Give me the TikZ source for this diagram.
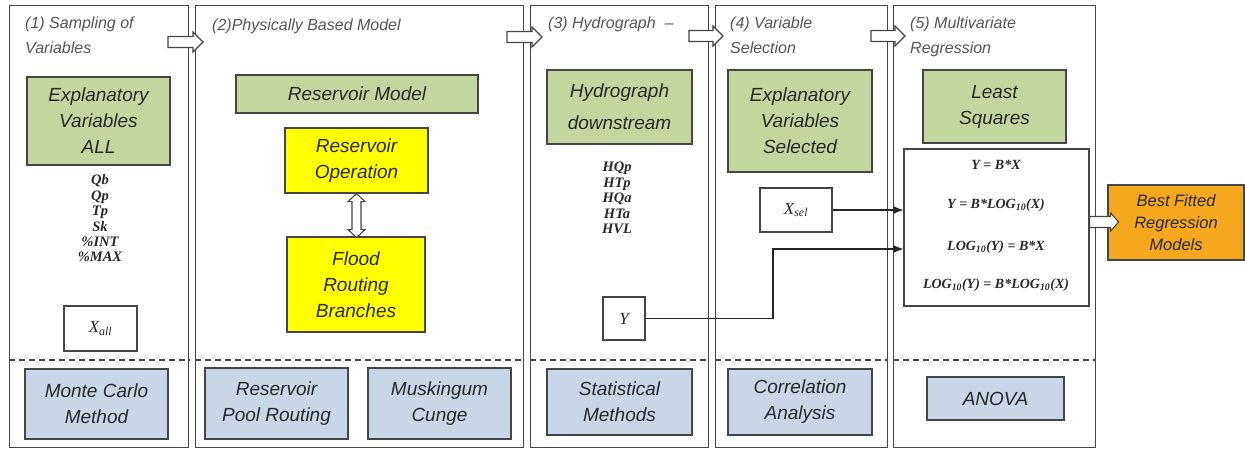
\documentclass[tikz,border=0pt]{standalone}
\usepackage{fontspec}
\setmainfont{Liberation Serif}
\setsansfont{Liberation Sans}
\usetikzlibrary{calc,arrows.meta}
\definecolor{edge}{RGB}{70,70,70}
\definecolor{txt}{RGB}{40,40,40}
\definecolor{ttl}{RGB}{85,85,85}
\definecolor{lgreen}{RGB}{196,214,160}
\definecolor{lyellow}{RGB}{255,255,0}
\definecolor{lblue}{RGB}{200,214,232}
\definecolor{lorange}{RGB}{245,168,30}
\tikzset{
  panel/.style={draw=edge, line width=1.3pt, anchor=north west, inner sep=0pt, minimum height=442pt},
  sz/.style 2 args={minimum width=#1pt, minimum height=#2pt},
  boxbase/.style={draw=edge, line width=1.2pt, inner sep=0pt, align=center, text=txt,
    font=\sffamily\itshape\fontsize{19}{26}\selectfont},
  greenbox/.style={boxbase, fill=lgreen},
  yellowbox/.style={boxbase, fill=lyellow},
  bluebox/.style={boxbase, fill=lblue},
  whitebox/.style={boxbase, fill=white},
  orangebox/.style={boxbase, fill=lorange, font=\sffamily\itshape\fontsize{16.5}{22}\selectfont},
  title/.style={anchor=north west, inner sep=0pt, align=left, text=ttl,
    font=\sffamily\itshape\fontsize{16}{25}\selectfont},
  varlist/.style={inner sep=0pt, align=center, text=txt,
    font=\rmfamily\itshape\bfseries\fontsize{14.5}{15.4}\selectfont},
  formula/.style={inner sep=0pt, text=txt, font=\rmfamily\itshape\bfseries\fontsize{14}{16}\selectfont},
  symb/.style={font=\rmfamily\itshape\fontsize{17}{20}\selectfont},
  dashline/.style={draw=edge, line width=1.1pt, dash pattern=on 6pt off 4pt},
  conn/.style={draw=black!85, line width=1.1pt, -{Latex[length=10pt,width=8pt]}},
  barrow/.style={draw=edge, fill=white, line width=1.1pt, line join=miter}
}
% horizontal hollow block arrow: start coordinate, length, head length, head half width
\newcommand\hbarrow[4]{%
  \draw[barrow] (#1) ++(0,-5.5) -- ++({#2-#3},0) -- ++(0,{-(#4-5.5)}) -- ++(#3,#4)
    -- ++({-#3},#4) -- ++(0,{-(#4-5.5)}) -- ++({-(#2-#3)},0) -- cycle;}
\begin{document}
\begin{tikzpicture}[x=1pt,y=-1pt]
\useasboundingbox (0,0) rectangle (1245,450);

% panels
\node[panel, minimum width=179pt] (P1) at (9,5) {};
\node[panel, minimum width=328pt] (P2) at (195,5) {};
\node[panel, minimum width=178pt] (P3) at (530,5) {};
\node[panel, minimum width=172pt] (P4) at (715,5) {};
\node[panel, minimum width=202pt] (P5) at (893,5) {};

\foreach \p in {P1,P2,P3,P4,P5}
  \draw[dashline] ($(\p.north west)+(0,355)$) -- ($(\p.north east)+(0,355)$);

% titles
\node[title] (T1) at (25,17) {(1) Sampling of\\Variables};
\node[title] (T2) at (212,19) {(2)Physically Based Model};
\node[title] (T3) at (548,17) {(3) Hydrograph \ --};
\node[title] (T4) at (730,17) {(4) Variable\\Selection};
\node[title] (T5) at (910,17) {(5) Multivariate\\Regression};

% panel 1
\node[greenbox, sz={143}{88}] (G1) at (98.5,121) {Explanatory\\Variables\\ALL};
\node[varlist] (V1) at (100,218.5) {Qb\\Qp\\Tp\\Sk\\\%INT\\\%MAX};
\node[whitebox, sz={73}{45}, symb] (Xall) at (100.5,328.5) {X\textsubscript{all}};
\node[bluebox, sz={143}{70}] (B1) at (96.5,404) {Monte Carlo\\Method};

% panel 2
\node[greenbox, sz={242}{38}] (G2) at (357,94) {Reservoir Model};
\node[yellowbox, sz={143}{65}] (Rop) at (356.5,160.5) {Reservoir\\Operation};
\node[yellowbox, sz={138}{95}] (Flood) at (356,284.5) {Flood\\Routing\\Branches};
\node[bluebox, sz={143}{71}] (B2a) at (276.5,403.5) {Reservoir\\Pool Routing};
\node[bluebox, sz={143}{71}] (B2b) at (439.5,403.5) {Muskingum\\Cunge};
\draw[barrow] (Rop.south) -- ++(8.5,8) -- ++(-4,0) -- ++(0,28) -- ++(4,0) -- ++(-8.5,8)
  -- ++(-8.5,-8) -- ++(4,0) -- ++(0,-28) -- ++(-4,0) -- cycle;

% panel 3
\node[greenbox, sz={145}{74}, font=\sffamily\itshape\fontsize{19}{32}\selectfont] (G3) at (619.5,107) {Hydrograph\\downstream};
\node[varlist] (V3) at (617,198) {HQp\\HTp\\HQa\\HTa\\HVL};
\node[whitebox, sz={42}{43}, symb] (Y) at (624,318.5) {Y};
\node[bluebox, sz={145}{66}] (B3) at (619.5,402) {Statistical\\Methods};

% panel 4
\node[greenbox, sz={144}{102}] (G4) at (800,121) {Explanatory\\Variables\\Selected};
\node[whitebox, sz={72}{44}, symb] (Xsel) at (796,210) {X\textsubscript{sel}};
\node[bluebox, sz={144}{66}] (B4) at (800,402) {Correlation\\Analysis};

% panel 5
\node[greenbox, sz={143}{73}] (G5) at (994.5,106.5) {Least\\Squares};
\node[whitebox, sz={185}{157}] (F) at (996.5,227.5) {};
\node[formula] (F1) at (996,165) {Y = B*X};
\node[formula] (F2) at (996,205) {Y = B*LOG\textsubscript{10}(X)};
\node[formula] (F3) at (996,247) {LOG\textsubscript{10}(Y) = B*X};
\node[formula] (F4) at (996,285) {LOG\textsubscript{10}(Y) = B*LOG\textsubscript{10}(X)};
\node[bluebox, sz={137}{43}] (B5) at (995.5,398.5) {ANOVA};

% result
\node[orangebox, sz={136}{75}] (Best) at (1176,222.5) {Best Fitted\\Regression\\Models};

% connectors
\coordinate (bend) at (773,249);
\draw[conn] (Xsel.east) -- (Xsel.east -| F.west);
\draw[conn] (Y.east) -| (bend) -- (bend -| F.west);

% block arrows between stages
\coordinate (a12) at (168,42);
\coordinate (a23) at (507,37);
\coordinate (a34) at (689,36);
\coordinate (a45) at (871,36);
\coordinate (a5b) at ($(F.east)+(0,-5.5)$);
\hbarrow{a12}{35}{10}{10}
\hbarrow{a23}{35}{10}{10}
\hbarrow{a34}{34}{10}{10}
\hbarrow{a45}{34}{10}{10}
\hbarrow{a5b}{29}{8}{9}
\end{tikzpicture}
\end{document}
